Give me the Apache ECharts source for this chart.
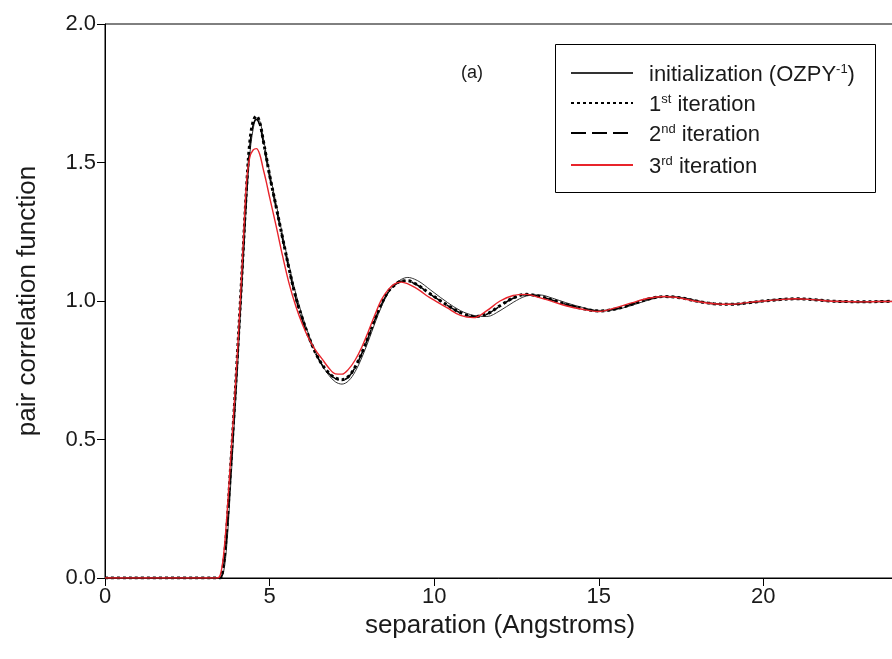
<!DOCTYPE html>
<html>
<head>
<meta charset="utf-8">
<script src="https://cdn.jsdelivr.net/npm/echarts@6/dist/echarts.min.js"></script>
<style>
  html, body { margin: 0; padding: 0; background: #ffffff; }
  #chart { width: 892px; height: 659px; }
</style>
</head>
<body>
<div id="chart"></div>
<script>
// Separation in Angstroms, shared by all curves
const separation = [
  0, 3.3, 3.4, 3.5, 3.6, 3.7, 3.8, 3.9, 4.0, 4.1,
  4.2, 4.3, 4.4, 4.5, 4.6, 4.7, 4.8, 4.9, 5.0, 5.2,
  5.4, 5.6, 5.8, 6.0, 6.2, 6.4, 6.6, 6.8, 7.0, 7.2,
  7.4, 7.6, 7.8, 8.0, 8.2, 8.4, 8.6, 8.8, 9.0, 9.2,
  9.4, 9.6, 9.8, 10.0, 10.4, 10.8, 11.2, 11.6, 12.0, 12.4,
  12.8, 13.2, 13.6, 14.0, 14.5, 15.0, 15.5, 16.0, 16.5, 17.0,
  17.5, 18.0, 18.5, 19.0, 19.5, 20.0, 20.5, 21.0, 21.5, 22.0,
  22.5, 23.0, 23.5, 24.0
];

// Pair correlation function, initialization (OZPY^-1)
const gInit = [
  0, 0, 0, 0, 0.02, 0.12, 0.30, 0.50, 0.70, 0.92,
  1.14, 1.36, 1.53, 1.62, 1.655, 1.65, 1.595, 1.53, 1.465, 1.35,
  1.235, 1.125, 1.025, 0.945, 0.875, 0.815, 0.768, 0.732, 0.708, 0.70,
  0.712, 0.745, 0.795, 0.855, 0.92, 0.98, 1.028, 1.06, 1.078, 1.085,
  1.079, 1.066, 1.048, 1.03, 0.995, 0.965, 0.948, 0.944, 0.965, 0.995,
  1.018, 1.022, 1.01, 0.994, 0.977, 0.966, 0.969, 0.984, 1.003, 1.015,
  1.013, 1.001, 0.991, 0.987, 0.992, 0.999, 1.005, 1.008, 1.005, 1.0,
  0.997, 0.997, 0.998, 0.999
];

// 1st iteration
const gIter1 = [
  0, 0, 0, 0, 0.05, 0.18, 0.37, 0.56, 0.76, 0.97,
  1.19, 1.41, 1.575, 1.648, 1.668, 1.645, 1.585, 1.52, 1.455, 1.34,
  1.225, 1.112, 1.012, 0.935, 0.868, 0.812, 0.77, 0.74, 0.722, 0.716,
  0.728, 0.762, 0.812, 0.872, 0.935, 0.99, 1.033, 1.058, 1.072, 1.073,
  1.064, 1.05, 1.032, 1.016, 0.985, 0.958, 0.944, 0.953, 0.983, 1.011,
  1.024, 1.017, 1.003, 0.988, 0.973, 0.964, 0.971, 0.988, 1.007, 1.016,
  1.011, 0.999, 0.99, 0.988, 0.993, 1.0, 1.005, 1.008, 1.005, 1.0,
  0.998, 0.997, 0.998, 0.999
];

// 2nd iteration
const gIter2 = [
  0, 0, 0, 0, 0.04, 0.16, 0.35, 0.545, 0.745, 0.955,
  1.175, 1.395, 1.56, 1.635, 1.655, 1.635, 1.578, 1.512, 1.448, 1.335,
  1.22, 1.108, 1.008, 0.93, 0.865, 0.81, 0.768, 0.738, 0.72, 0.714,
  0.726, 0.76, 0.81, 0.87, 0.932, 0.988, 1.031, 1.057, 1.071, 1.072,
  1.063, 1.049, 1.031, 1.015, 0.984, 0.957, 0.943, 0.952, 0.982, 1.01,
  1.023, 1.017, 1.003, 0.988, 0.973, 0.964, 0.971, 0.988, 1.007, 1.016,
  1.011, 0.999, 0.99, 0.988, 0.993, 1.0, 1.005, 1.008, 1.005, 1.0,
  0.998, 0.997, 0.998, 0.999
];

// 3rd iteration
const gIter3 = [
  0, 0, 0, 0.01, 0.08, 0.22, 0.40, 0.58, 0.77, 0.98,
  1.21, 1.43, 1.52, 1.545, 1.55, 1.53, 1.48, 1.43, 1.375, 1.27,
  1.16, 1.06, 0.98, 0.915, 0.862, 0.822, 0.79, 0.758, 0.737, 0.736,
  0.754, 0.787, 0.833, 0.89, 0.95, 1.005, 1.04, 1.062, 1.068, 1.062,
  1.05, 1.035, 1.017, 1.003, 0.975, 0.948, 0.94, 0.965, 1.0, 1.02,
  1.024, 1.012, 0.998, 0.983, 0.97, 0.962, 0.975, 0.993, 1.01, 1.016,
  1.01, 0.998, 0.99, 0.988, 0.994, 1.0, 1.005, 1.008, 1.005, 1.0,
  0.998, 0.997, 0.998, 0.998
];

const seriesNames = ['init', 'iter1', 'iter2', 'iter3'];
const legendLabels = [
  '{t|initialization (OZPY}{s|-1}{t|)}',
  '{t|1}{s|st}{t| iteration}',
  '{t|2}{s|nd}{t| iteration}',
  '{t|3}{s|rd}{t| iteration}'
];

const FONT = '"Liberation Sans", Arial, Helvetica, sans-serif';
const pairs = arr => separation.map((x, i) => [x, arr[i]]);

const chart = echarts.init(document.getElementById('chart'), null, { renderer: 'canvas' });

const richText = {
  t: { fontFamily: FONT, fontSize: 22, color: '#1a1a1a', lineHeight: 26, verticalAlign: 'bottom' },
  s: { fontFamily: FONT, fontSize: 13, color: '#1a1a1a', lineHeight: 26, verticalAlign: 'bottom', padding: [0, 0, 10, 0] }
};

const legendRowsY = [74, 104, 134, 166];
const legends = seriesNames.map((name, i) => ({
  data: [name],
  left: 570,
  top: legendRowsY[i] - 11,
  padding: 0,
  itemWidth: 62,
  itemHeight: 14,
  selectedMode: false,
  itemStyle: { opacity: 0 },
  formatter: () => legendLabels[i],
  textStyle: { fontFamily: FONT, fontSize: 22, color: '#1a1a1a', padding: [0, 0, 0, 11], rich: richText }
}));

const baseLine = { type: 'line', showSymbol: false, symbol: 'none', smooth: 0.35, animation: false };

chart.setOption({
  backgroundColor: '#ffffff',
  animation: false,
  grid: {
    left: 105, top: 24, width: 790, height: 554,
    outerBoundsMode: 'none', containLabel: false,
    show: true, borderColor: '#000', borderWidth: 1, backgroundColor: 'transparent'
  },
  legend: legends,
  graphic: [
    {
      type: 'rect', left: 555, top: 44, z: 10, silent: true,
      shape: { width: 320, height: 148 },
      style: { fill: 'transparent', stroke: '#000', lineWidth: 1 }
    },
    {
      type: 'text', left: 461, top: 64, z: 10, silent: true,
      style: { text: '(a)', font: '18px ' + FONT, fill: '#1a1a1a' }
    }
  ],
  xAxis: {
    type: 'value', min: 0, max: 24, interval: 5,
    name: 'separation (Angstroms)', nameLocation: 'middle', nameGap: 20,
    nameTextStyle: { fontFamily: FONT, fontSize: 26, color: '#1a1a1a' },
    axisLine: { show: true, lineStyle: { color: '#000', width: 1 } },
    axisTick: { show: true, inside: false, length: 8, lineStyle: { color: '#000' } },
    axisLabel: { fontFamily: FONT, fontSize: 22, color: '#1a1a1a', margin: 8, showMaxLabel: false },
    splitLine: { show: false }
  },
  yAxis: {
    type: 'value', min: 0, max: 2, interval: 0.5,
    name: 'pair correlation function', nameLocation: 'middle', nameGap: 64,
    nameTextStyle: { fontFamily: FONT, fontSize: 26, color: '#1a1a1a' },
    axisLine: { show: true, lineStyle: { color: '#000', width: 1 } },
    axisTick: { show: true, inside: false, length: 8, lineStyle: { color: '#000' } },
    axisLabel: { fontFamily: FONT, fontSize: 22, color: '#1a1a1a', margin: 9, formatter: v => v.toFixed(1) },
    splitLine: { show: false }
  },
  series: [
    Object.assign({}, baseLine, {
      name: 'init', data: pairs(gInit), z: 2,
      lineStyle: { color: '#333', width: 1, type: 'solid' }, itemStyle: { color: '#333' }
    }),
    Object.assign({}, baseLine, {
      name: 'iter1', data: pairs(gIter1), z: 3,
      lineStyle: { color: '#000', width: 3, type: [3, 3] }, itemStyle: { color: '#000' }
    }),
    Object.assign({}, baseLine, {
      name: 'iter2', data: pairs(gIter2), z: 4,
      lineStyle: { color: '#000', width: 1.5, type: [15, 6] }, itemStyle: { color: '#000' }
    }),
    Object.assign({}, baseLine, {
      name: 'iter3', data: pairs(gIter3), z: 5,
      lineStyle: { color: '#e8242b', width: 1.4, type: 'solid' }, itemStyle: { color: '#e8242b' }
    })
  ]
});
</script>
</body>
</html>
